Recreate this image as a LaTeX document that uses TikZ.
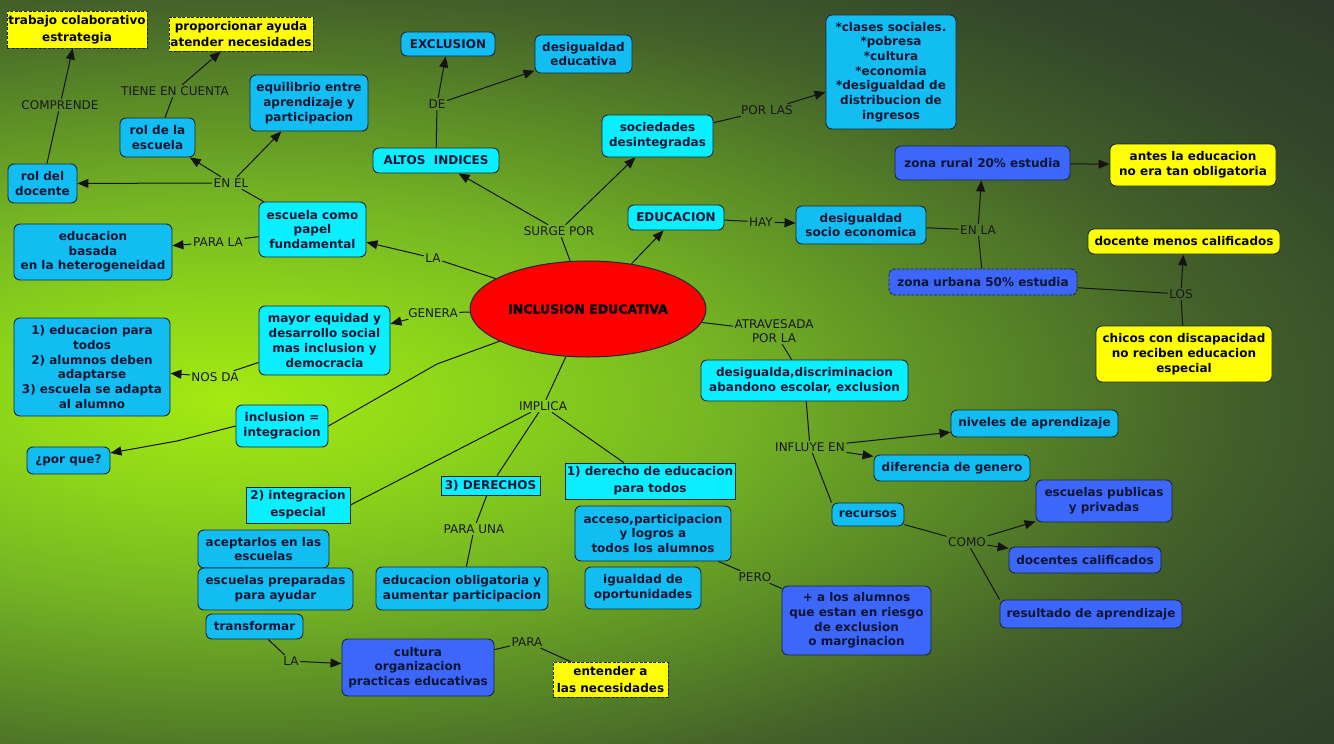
\documentclass[tikz,border=0pt]{standalone}
\usepackage{fontspec}
\setmainfont{DejaVu Sans}
\newfontfamily\heavyfont{DejaVu Sans}[BoldFeatures={FakeBold=1.6}]
\usetikzlibrary{arrows.meta,shapes.geometric}
\definecolor{skyc}{HTML}{12BDF2}
\definecolor{cyanc}{HTML}{0AEFFF}
\definecolor{royalc}{HTML}{3D66FA}
\definecolor{yelc}{HTML}{FFFF00}
\definecolor{bordc}{HTML}{18283A}
\definecolor{txtc}{HTML}{0B1633}
\definecolor{linec}{HTML}{141414}
\definecolor{g0}{HTML}{A4EA12}
\definecolor{g1}{HTML}{8CD41A}
\definecolor{g2}{HTML}{74B424}
\definecolor{g3}{HTML}{5A8A26}
\definecolor{g4}{HTML}{43602A}
\definecolor{g5}{HTML}{33462A}
\definecolor{g6}{HTML}{2C3A2A}
\definecolor{g7}{HTML}{283428}
\pgfdeclareradialshading{bgsh}{\pgfpoint{0bp}{0bp}}{color(0bp)=(g0); color(3.33bp)=(g1); color(6.67bp)=(g2); color(10bp)=(g3); color(13.33bp)=(g4); color(16.67bp)=(g5); color(20bp)=(g6); color(25bp)=(g7); color(50bp)=(g7)}
\newcommand\mynfont{\fontsize{12}{14.7}\selectfont\bfseries}
\newcommand\mynfontb{\fontsize{12}{16.7}\selectfont\bfseries}
\newcommand\mylfont{\fontsize{12}{14.5}\selectfont}
\tikzset{
  box/.style={draw=bordc, line width=0.9pt, font=\mynfont, text=txtc, align=center, inner sep=1pt},
  sbox/.style={box, fill=skyc, rounded corners=6pt},
  cbox/.style={box, fill=cyanc, rounded corners=6pt},
  rbox/.style={box, fill=royalc, rounded corners=6pt},
  ybox/.style={box, fill=yelc, rounded corners=6pt, text=black},
  ydbox/.style={box, fill=yelc, dash pattern=on 3pt off 1.5pt, text=black, font=\mynfontb},
  tbox/.style={box, fill=cyanc, font=\mynfontb},
  lbl/.style={font=\mylfont, text=black!90, inner sep=1.5pt, align=center},
  wh/.style 2 args={minimum width=#1pt, minimum height=#2pt},
  ln/.style={draw=linec, line width=1pt},
  ar/.style={ln, -{Triangle[length=11pt,width=9pt]}},
}
\begin{document}
\begin{tikzpicture}[x=1pt,y=-1pt]
\useasboundingbox (0,0) rectangle (1334,744);
\begin{scope}
\clip (0,0) rectangle (1334,744);
\shade[shading=bgsh] (230,400) ellipse (1875 and 760);
\end{scope}

% concept nodes
\node[ydbox, wh={140}{37}] (trab) at (77,29.5) {trabajo colaborativo\\estrategia};
\node[ydbox, wh={144}{34}] (prop) at (241,34) {proporcionar ayuda\\atender necesidades};
\node[sbox, wh={69}{39}] (doc) at (42.5,183.5) {rol del\\docente};
\node[sbox, wh={75}{39}] (esc) at (157.5,137.5) {rol de la\\escuela};
\node[sbox, wh={118}{56}] (equi) at (309,103) {equilibrio entre\\aprendizaje y\\participacion};
\node[cbox, wh={107}{55}] (papel) at (312.5,229.5) {escuela como\\papel\\fundamental};
\node[sbox, wh={158}{56}] (hetero) at (93,252) {educacion\\basada\\en la heterogeneidad};
\node[sbox, wh={94}{24}] (excl) at (448,44) {EXCLUSION};
\node[sbox, wh={97}{38}] (desed) at (583.5,54) {desigualdad\\educativa};
\node[cbox, wh={126}{25}] (altos) at (436,160.5) {ALTOS~~INDICES};
\node[cbox, wh={111}{42}] (socd) at (657.5,136) {sociedades\\desintegradas};
\node[cbox, wh={96}{25}] (educ) at (676,217.5) {EDUCACION};
\node[sbox, wh={130}{114}] (clases) at (891,72) {*clases sociales.\\*pobresa\\*cultura\\*economia\\*desigualdad de\\distribucion de\\ingresos};
\node[rbox, wh={175}{34}] (rural) at (982.5,163) {zona rural 20\% estudia};
\node[ybox, wh={166}{42}] (antes) at (1193,165) {antes la educacion\\no era tan obligatoria};
\node[sbox, wh={130}{38}] (dsocio) at (861,225) {desigualdad\\socio economica};
\node[ybox, wh={192}{25}] (dmenos) at (1184,241.5) {docente menos calificados};
\node[rbox, dash pattern=on 3pt off 1.5pt, wh={188}{26}] (urbana) at (983,282) {zona urbana 50\% estudia};
\node[ybox, wh={176}{56}] (chicos) at (1184,354) {chicos con discapacidad\\no reciben educacion\\especial};
\node[ellipse, draw=black!85, line width=1pt, fill=red, minimum width=236pt, minimum height=96pt, inner sep=0pt, font=\heavyfont\fontsize{12.5}{14}\selectfont\bfseries, text=black] (ie) at (588,309) {INCLUSION EDUCATIVA};
\node[cbox, wh={131}{69}] (equidad) at (324.5,340.5) {mayor equidad y\\desarrollo social\\mas inclusion y\\democracia};
\node[sbox, wh={156}{98}] (lista) at (92,367) {1) educacion para\\todos\\2) alumnos deben\\adaptarse\\3) escuela se adapta\\al alumno};
\node[cbox, wh={92}{42}] (integ) at (282,426) {inclusion =\\integracion};
\node[sbox, wh={83}{27}] (porque) at (68.5,460.5) {¿por que?};
\node[cbox, wh={207}{41}] (desd) at (804.5,380.5) {desigualda,discriminacion\\abandono escolar, exclusion};
\node[sbox, wh={167}{27}] (niveles) at (1034.5,423.5) {niveles de aprendizaje};
\node[sbox, wh={156}{26}] (genero) at (952,468) {diferencia de genero};
\node[sbox, wh={72}{23}] (recursos) at (868,514.5) {recursos};
\node[rbox, wh={136}{42}] (publicas) at (1104,501) {escuelas publicas\\y privadas};
\node[rbox, wh={152}{26}] (dcalif) at (1085,560) {docentes calificados};
\node[rbox, wh={182}{28}] (result) at (1091,614) {resultado de aprendizaje};
\node[rbox, wh={149}{69}] (alumnos) at (856.5,620.5) {+ a los alumnos\\que estan en riesgo\\de exclusion\\o marginacion};
\node[tbox, wh={170}{36}] (der1) at (650,481) {1) derecho de educacion\\para todos};
\node[tbox, wh={99}{19}] (der3) at (490.5,485.5) {3) DERECHOS};
\node[tbox, wh={104}{36}] (integesp) at (298,505) {2) integracion\\especial};
\node[sbox, wh={156}{55}] (acceso) at (653,533.5) {acceso,participacion\\y logros a\\todos los alumnos};
\node[sbox, wh={116}{42}] (igualdad) at (643,588) {igualdad de\\oportunidades};
\node[sbox, wh={131}{38}] (acept) at (263.5,549) {aceptarlos en las\\escuelas};
\node[sbox, wh={155}{42}] (prepar) at (275.5,589) {escuelas preparadas\\para ayudar};
\node[sbox, wh={172}{43}] (oblig) at (462,588.5) {educacion obligatoria y\\aumentar participacion};
\node[sbox, wh={97}{25}] (transf) at (254.5,626.5) {transformar};
\node[rbox, wh={152}{57}] (cultura) at (418,667.5) {cultura\\organizacion\\practicas educativas};
\node[ydbox, wh={115}{35}] (entender) at (610.5,679.5) {entender a\\las necesidades};

% linking labels
\node[lbl] (L1) at (60,105) {COMPRENDE};
\node[lbl] (L2) at (175,91) {TIENE EN CUENTA};
\node[lbl] (L3) at (231,183) {EN EL};
\node[lbl] (L4) at (218,242) {PARA LA};
\node[lbl] (L5) at (433,258) {LA};
\node[lbl] (L6) at (437,104) {DE};
\node[lbl] (L7) at (559,231) {SURGE POR};
\node[lbl] (L8) at (767,110) {POR LAS};
\node[lbl] (L9) at (761,222) {HAY};
\node[lbl] (L10) at (978,230) {EN LA};
\node[lbl] (L11) at (1181,294) {LOS};
\node[lbl] (L12) at (433,313) {GENERA};
\node[lbl] (L13) at (215,377) {NOS DA};
\node[lbl] (L14) at (774,331) {ATRAVESADA\\POR LA};
\node[lbl] (L15) at (543,406) {IMPLICA};
\node[lbl] (L16) at (810,447) {INFLUYE EN};
\node[lbl] (L17) at (967,542) {COMO};
\node[lbl] (L18) at (755,577) {PERO};
\node[lbl] (L19) at (474,529) {PARA UNA};
\node[lbl] (L20) at (291,661) {LA};
\node[lbl] (L21) at (527,642) {PARA};
\coordinate (B1) at (437,364);
\coordinate (B2) at (177,441);

% connectors
\draw[ln] (doc) -- (L1); \draw[ar] (L1) -- (trab);
\draw[ln] (esc) -- (L2); \draw[ar] (L2) -- (prop);
\draw[ln] (papel) -- (L3); \draw[ar] (L3) -- (doc); \draw[ar] (L3) -- (esc); \draw[ar] (L3) -- (equi);
\draw[ln] (papel) -- (L4); \draw[ar] (L4) -- (hetero);
\draw[ln] (ie) -- (L5); \draw[ar] (L5) -- (papel);
\draw[ln] (ie) -- (L7); \draw[ar] (L7) -- (altos); \draw[ar] (L7) -- (socd);
\draw[ln] (altos) -- (L6); \draw[ar] (L6) -- (excl); \draw[ar] (L6) -- (desed);
\draw[ln] (socd) -- (L8); \draw[ar] (L8) -- (clases);
\draw[ar] (ie) -- (educ);
\draw[ln] (educ) -- (L9); \draw[ar] (L9) -- (dsocio);
\draw[ln] (dsocio) -- (L10); \draw[ar] (L10) -- (rural); \draw[ln] (urbana) -- (L10);
\draw[ar] (rural) -- (antes);
\draw[ln] (urbana) -- (L11); \draw[ar] (L11) -- (dmenos); \draw[ln] (chicos) -- (L11);
\draw[ln] (ie) -- (L12); \draw[ar] (L12) -- (equidad);
\draw[ln] (equidad) -- (L13); \draw[ar] (L13) -- (lista);
\draw[ln] (ie) -- (B1) -- (integ.east);
\draw[ln] (integ.west) -- (B2); \draw[ar] (B2) -- (porque);
\draw[ln] (ie) -- (L14); \draw[ln] (L14) -- (desd);
\draw[ln] (desd) -- (L16); \draw[ar] (L16) -- (niveles); \draw[ar] (L16) -- (genero); \draw[ln] (L16) -- (recursos.north west);
\draw[ln] (recursos) -- (L17); \draw[ar] (L17) -- (publicas); \draw[ar] (L17) -- (dcalif); \draw[ln] (L17) -- (result.north west);
\draw[ln] (ie) -- (L15); \draw[ln] (L15) -- (integesp.east); \draw[ln] (L15) -- (der3); \draw[ln] (L15) -- (der1);
\draw[ln] (der3) -- (L19); \draw[ln] (L19) -- (oblig);
\draw[ln] (acceso) -- (L18); \draw[ln] (L18) -- (alumnos);
\draw[ln] (transf) -- (L20); \draw[ar] (L20) -- (cultura);
\draw[ln] (cultura) -- (L21); \draw[ln] (L21) -- (entender);
\end{tikzpicture}
\end{document}
